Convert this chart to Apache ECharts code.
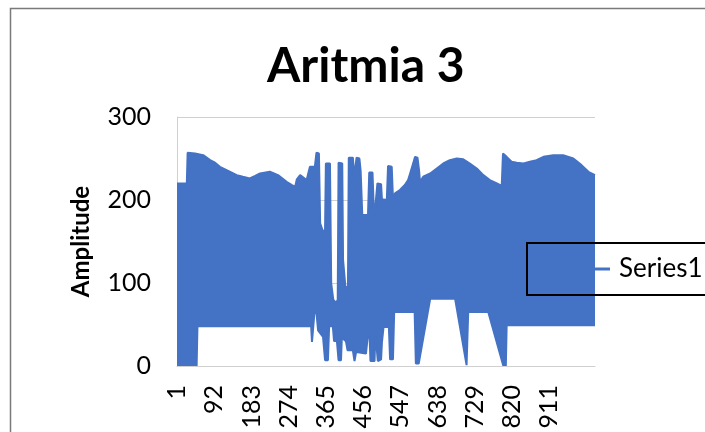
<!DOCTYPE html>
<html>
<head>
<meta charset="utf-8">
<script src="https://cdn.jsdelivr.net/npm/echarts@6/dist/echarts.min.js"></script>
<style>
html,body{margin:0;padding:0;background:#fff;}
#chart{width:705px;height:432px;}
</style>
</head>
<body>
<div id="chart"></div>
<script>
// Number of samples on the category axis (labels "1".."1023")
var sampleCount = 1023;
var categories = [];
for (var i = 1; i <= sampleCount; i++) categories.push(String(i));

// Tick labels shown on the x axis
var tickLabels = ['1','92','183','274','365','456','547','638','729','820','911'];

// Upper envelope of the dense signal: [sample index, amplitude]
var upperEnvelope = [
  [0,220],[24,220],[26,257],[44,256],[64,254],[81,248],[93,245],[105,240],[130,234],[146,230],
  [161,228],[178,226],[191,229],[203,232],[227,234],[247,230],[268,222],[281,218],[289,216],[293,225],
  [301,230],[317,224],[325,240],[337,240],[341,257],[347,256],[350,172],[357,162],[362,164],[364,244],
  [374,244],[377,100],[382,80],[389,76],[393,80],[395,245],[404,244],[406,128],[412,94],[418,96],
  [420,251],[430,251],[433,228],[437,230],[439,251],[446,250],[449,235],[453,182],[467,182],[470,233],
  [478,233],[482,176],[486,176],[490,220],[499,219],[501,201],[513,200],[516,241],[525,240],[528,202],
  [533,208],[545,212],[557,218],[565,224],[570,232],[578,245],[582,252],[588,251],[592,235],[594,222],
  [602,228],[619,232],[635,238],[651,244],[667,248],[684,250],[700,249],[716,244],[733,238],[749,230],
  [765,224],[782,220],[794,217],[797,256],[806,252],[818,246],[831,245],[847,244],[863,246],[879,248],
  [896,252],[920,254],[944,254],[969,250],[989,242],[1006,234],[1022,230]
];

// Lower envelope of the dense signal: [sample index, amplitude]
var lowerEnvelope = [
  [0,0],[48,0],[50,48],[328,48],[330,29],[334,29],[336,64],[341,64],[345,43],[357,35],
  [362,7],[369,7],[372,48],[381,48],[384,30],[391,30],[395,7],[401,7],[403,34],[413,30],
  [417,19],[430,19],[434,6],[438,17],[462,15],[466,34],[471,34],[473,6],[483,6],[485,40],
  [489,40],[491,6],[499,8],[501,28],[505,47],[518,47],[521,8],[528,8],[531,65],[581,65],
  [584,3],[591,3],[619,81],[680,81],[708,1],[710,1],[712,65],[761,65],[798,0],[804,0],
  [806,49],[1022,49]
];

var blue = '#4472C4';
var font = 'Lato';

var chart = echarts.init(document.getElementById('chart'), null, {renderer: 'canvas'});
chart.setOption({
  backgroundColor: '#fff',
  animation: false,
  title: {
    text: 'Aritmia 3',
    left: 262,
    top: 38,
    textStyle: {fontFamily: font, fontWeight: 'bold', fontSize: 48, color: '#000'}
  },
  legend: {
    data: ['Series1'],
    left: 527,
    top: 243,
    padding: [13, 24, 13, 68],
    borderColor: '#000',
    borderWidth: 2,
    backgroundColor: 'transparent',
    icon: 'rect',
    itemWidth: 15,
    itemHeight: 3,
    itemGap: 6,
    textStyle: {fontFamily: font, fontSize: 26, color: '#000', padding: [0, 0, 0, 4]}
  },
  graphic: [{
    type: 'rect',
    shape: {x: 10.5, y: 8.5, width: 800, height: 500},
    style: {fill: 'none', stroke: '#7a7a7a', lineWidth: 1.5},
    silent: true,
    z: 100
  }],
  grid: {
    left: 177, right: 110, top: 117, bottom: 66,
    outerBoundsMode: 'none'
  },
  xAxis: {
    type: 'category',
    data: categories,
    boundaryGap: false,
    z: 10,
    axisLine: {show: true, lineStyle: {color: '#d0d0d0', width: 1}},
    axisTick: {show: false},
    splitLine: {show: false},
    axisLabel: {
      interval: 90,
      rotate: 90,
      margin: 19,
      padding: [7, 0, 0, 0],
      fontFamily: font,
      fontSize: 25,
      color: '#000',
      formatter: function (v) { return tickLabels.indexOf(v) >= 0 ? v : ''; }
    }
  },
  yAxis: {
    type: 'value',
    min: 0, max: 300, interval: 100,
    name: 'Amplitude',
    nameLocation: 'middle',
    nameGap: 84,
    nameTextStyle: {fontFamily: font, fontWeight: 'bold', fontSize: 24, color: '#000'},
    axisLine: {show: true, lineStyle: {color: '#d0d0d0', width: 1}},
    axisTick: {show: false},
    splitLine: {show: true, lineStyle: {color: '#d0d0d0', width: 1}},
    axisLabel: {margin: 26, fontFamily: font, fontSize: 25, color: '#000'}
  },
  series: [
    {
      name: 'Series1',
      type: 'line',
      data: upperEnvelope,
      symbol: 'none',
      z: 2,
      lineStyle: {color: blue, width: 2},
      itemStyle: {color: blue},
      areaStyle: {color: blue, opacity: 1, origin: 'start'}
    },
    {
      name: 'lower',
      type: 'line',
      data: lowerEnvelope,
      symbol: 'none',
      z: 3,
      lineStyle: {color: blue, width: 2},
      itemStyle: {color: blue},
      areaStyle: {color: '#ffffff', opacity: 1, origin: 'start'}
    }
  ]
});
</script>
</body>
</html>
